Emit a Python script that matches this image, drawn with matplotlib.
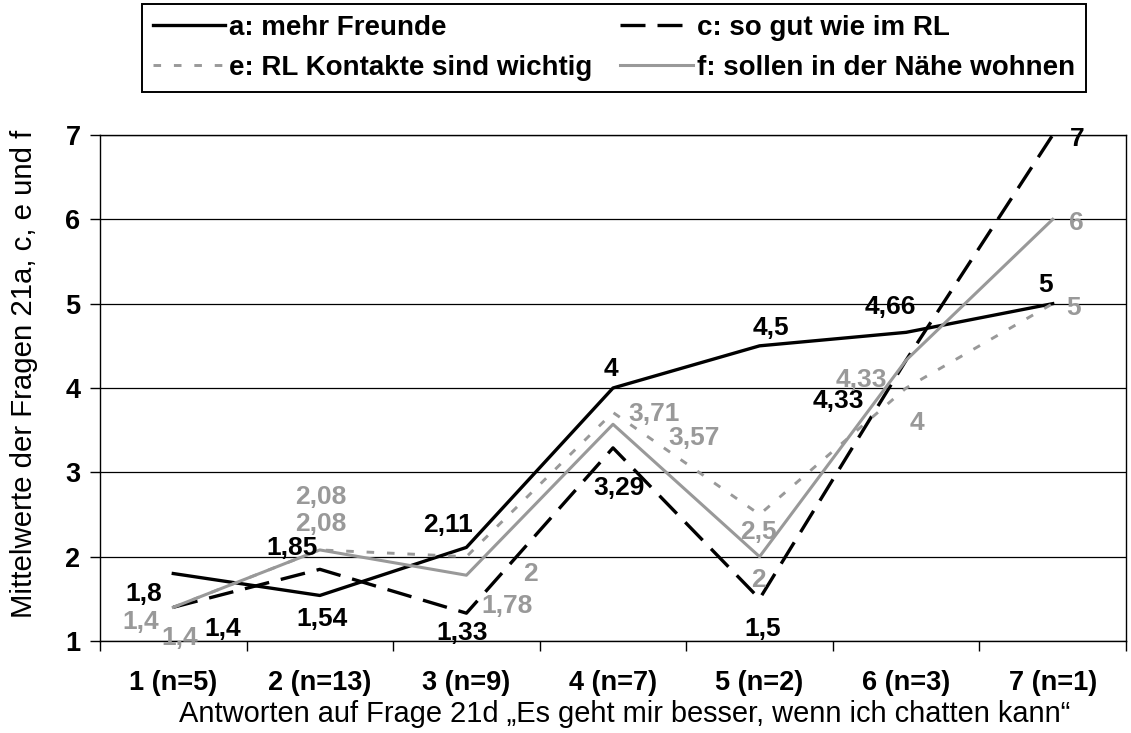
import numpy as np
import matplotlib
matplotlib.use('Agg')
import matplotlib.pyplot as plt

plt.rcParams['font.family'] = ['Liberation Sans', 'DejaVu Sans']

# data
categories = ['1 (n=5)', '2 (n=13)', '3 (n=9)', '4 (n=7)', '5 (n=2)', '6 (n=3)', '7 (n=1)']
a_values = [1.8, 1.54, 2.11, 4, 4.5, 4.66, 5]
c_values = [1.4, 1.85, 1.33, 3.29, 1.5, 4.33, 7]
e_values = [1.4, 2.08, 2, 3.71, 2.5, 4, 5]
f_values = [1.4, 2.08, 1.78, 3.57, 2, 4.33, 6]
names = ['a: mehr Freunde', 'c: so gut wie im RL',
         'e: RL Kontakte sind wichtig', 'f: sollen in der Nähe wohnen']

# where each value label sits relative to its point (pixels, up = +)
a_off = [(-30, -18), (2, -21), (-18, 25), (-2, 21), (11, 20), (-16, 28), (-7, 21)]
c_off = [(49, -19), (-28, 24), (-4, -17), (6, -38), (3, -28), (-68, -38), (24, -2)]
e_off = [(-33, -12), (1, 55), (64, -15), (41, 1), (-1, -15), (11, -33), (21, -2)]
f_off = [(6, -28), (1, 28), (41, -28), (81, -11), (-1, -21), (-45, -17), (24, -1)]

gray = '#999999'
W, H = 1131, 733
fig = plt.figure(figsize=(W / 100, H / 100), dpi=100)
ax = fig.add_axes([100 / W, 1 - 641 / H, 1026 / W, 506 / H])

x = np.arange(1, len(categories) + 1)

la, = ax.plot(x, a_values, color='black', lw=2.4, clip_on=False, zorder=3)
lc, = ax.plot(x, c_values, color='black', lw=2.4, dashes=(7.5, 3.6), clip_on=False, zorder=3)
le, = ax.plot(x, e_values, color=gray, lw=2.1, dashes=(2.6, 4.4), clip_on=False, zorder=3)
lf, = ax.plot(x, f_values, color=gray, lw=2.2, clip_on=False, zorder=4)


def fmt(v):
    s = ('%.2f' % v).rstrip('0').rstrip('.')
    return s.replace('.', ',')


for vals, offs, col in [(a_values, a_off, 'black'), (c_values, c_off, 'black'),
                        (e_values, e_off, gray), (f_values, f_off, gray)]:
    for xi, v, (dx, dy) in zip(x, vals, offs):
        ax.annotate(fmt(v), (xi, v), xytext=(dx, dy - 9.5), textcoords='offset pixels',
                    ha='center', va='baseline', fontsize=19, fontweight='bold',
                    color=col, annotation_clip=False, zorder=5)

ax.set_xlim(0.5, 7.5)
ax.set_ylim(1, 7)

ax.set_xticks(np.arange(0.5, 8, 1))
ax.set_xticklabels([])
ax.set_xticks(x, minor=True)
ax.set_xticklabels(categories, minor=True, fontsize=19.5, fontweight='bold')
ax.tick_params(axis='x', which='major', direction='out', length=7, width=1)
ax.tick_params(axis='x', which='minor', length=0, pad=21)

ax.set_yticks(range(1, 8))
ax.set_yticklabels([str(i) for i in range(1, 8)], fontsize=19.5, fontweight='bold')
ax.tick_params(axis='y', direction='out', length=7, width=1, pad=7)

ax.yaxis.grid(True, color='black', lw=0.9)
ax.set_axisbelow(True)
for sp in ax.spines.values():
    sp.set_color('black')
    sp.set_linewidth(1)

fig.text(24 / W, 1 - 374 / H, 'Mittelwerte der Fragen 21a, c, e und f',
         rotation=90, ha='center', va='center', fontsize=21.2)
fig.text(625 / W, 1 - 722 / H,
         'Antworten auf Frage 21d \u201eEs geht mir besser, wenn ich chatten kann\u201c',
         ha='center', va='baseline', fontsize=20.9)

leg = fig.legend([la, le, lc, lf], [names[0], names[2], names[1], names[3]],
                 loc='upper center', bbox_to_anchor=(614 / W, 1 - 4 / H), ncol=2,
                 prop={'size': 20, 'weight': 'bold'}, frameon=True, fancybox=False,
                 edgecolor='black', framealpha=1, handlelength=2.6, handletextpad=0.15,
                 columnspacing=1.0, borderpad=0.4, labelspacing=0.5, borderaxespad=0)
leg.get_frame().set_linewidth(1.4)

fig.savefig('out.png', dpi=100)
